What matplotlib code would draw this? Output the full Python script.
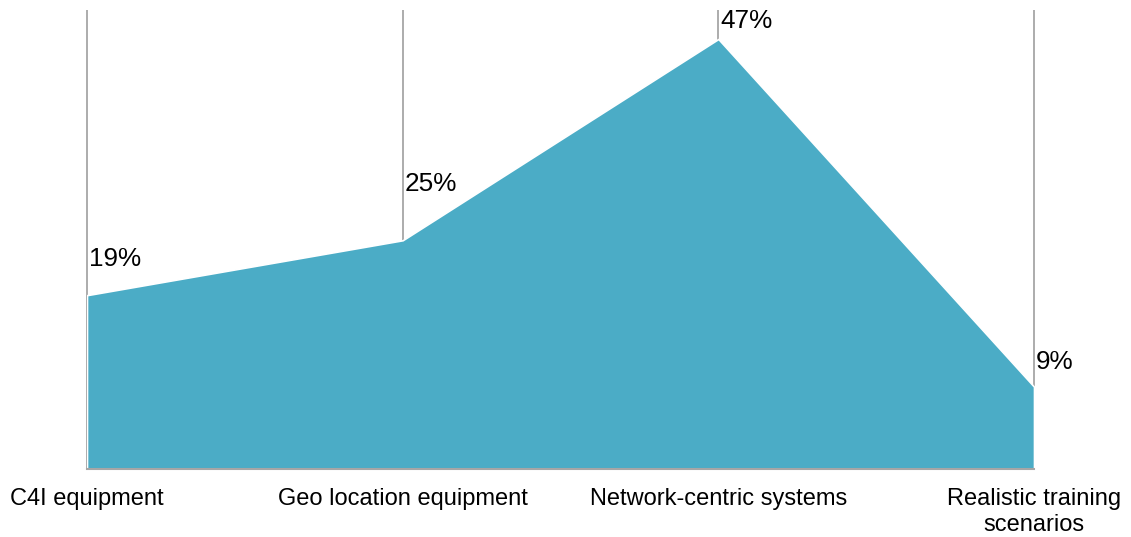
import numpy as np
import matplotlib.pyplot as plt

plt.rcParams["font.family"] = ["Liberation Sans", "DejaVu Sans"]

categories = ["C4I equipment", "Geo location equipment",
              "Network-centric systems", "Realistic training\nscenarios"]
shares = [19, 25, 47, 9]
value_labels = ["19%", "25%", "47%", "9%"]

# vertical nudge of each value label above its point (in % units)
label_offset = [4.0, 6.2, 2.0, 2.7]

fill_color = "#4BACC6"
line_color = "#A6A6A6"

W, H = 1131, 537
fig = plt.figure(figsize=(W / 100, H / 100), dpi=100)
ax = fig.add_axes([87 / W, (H - 469) / H, (1034 - 87) / W, (469 - 10) / H])

x = np.arange(len(categories))
ymax = 50.17

ax.vlines(x, 0, ymax, color=line_color, linewidth=1.3, zorder=1, clip_on=False)
ax.fill_between(x, shares, 0, color=fill_color, edgecolor="white",
                linewidth=1.2, zorder=2)
ax.axhline(0, color=line_color, linewidth=1.5, zorder=3, clip_on=False)

for xi, v, lab, off in zip(x, shares, value_labels, label_offset):
    ax.annotate(lab, (xi, v + off), xytext=(1.5, 0), textcoords="offset points",
                ha="left", va="center", fontsize=18.8, color="#000000")

ax.set_xlim(0, len(categories) - 1)
ax.set_ylim(0, ymax)
ax.set_xticks(x)
ax.set_xticklabels(categories, fontsize=17, linespacing=1.2)
ax.tick_params(axis="x", length=0, pad=14)
ax.set_yticks([])
for s in ax.spines.values():
    s.set_visible(False)

fig.savefig("out.png", dpi=100)
